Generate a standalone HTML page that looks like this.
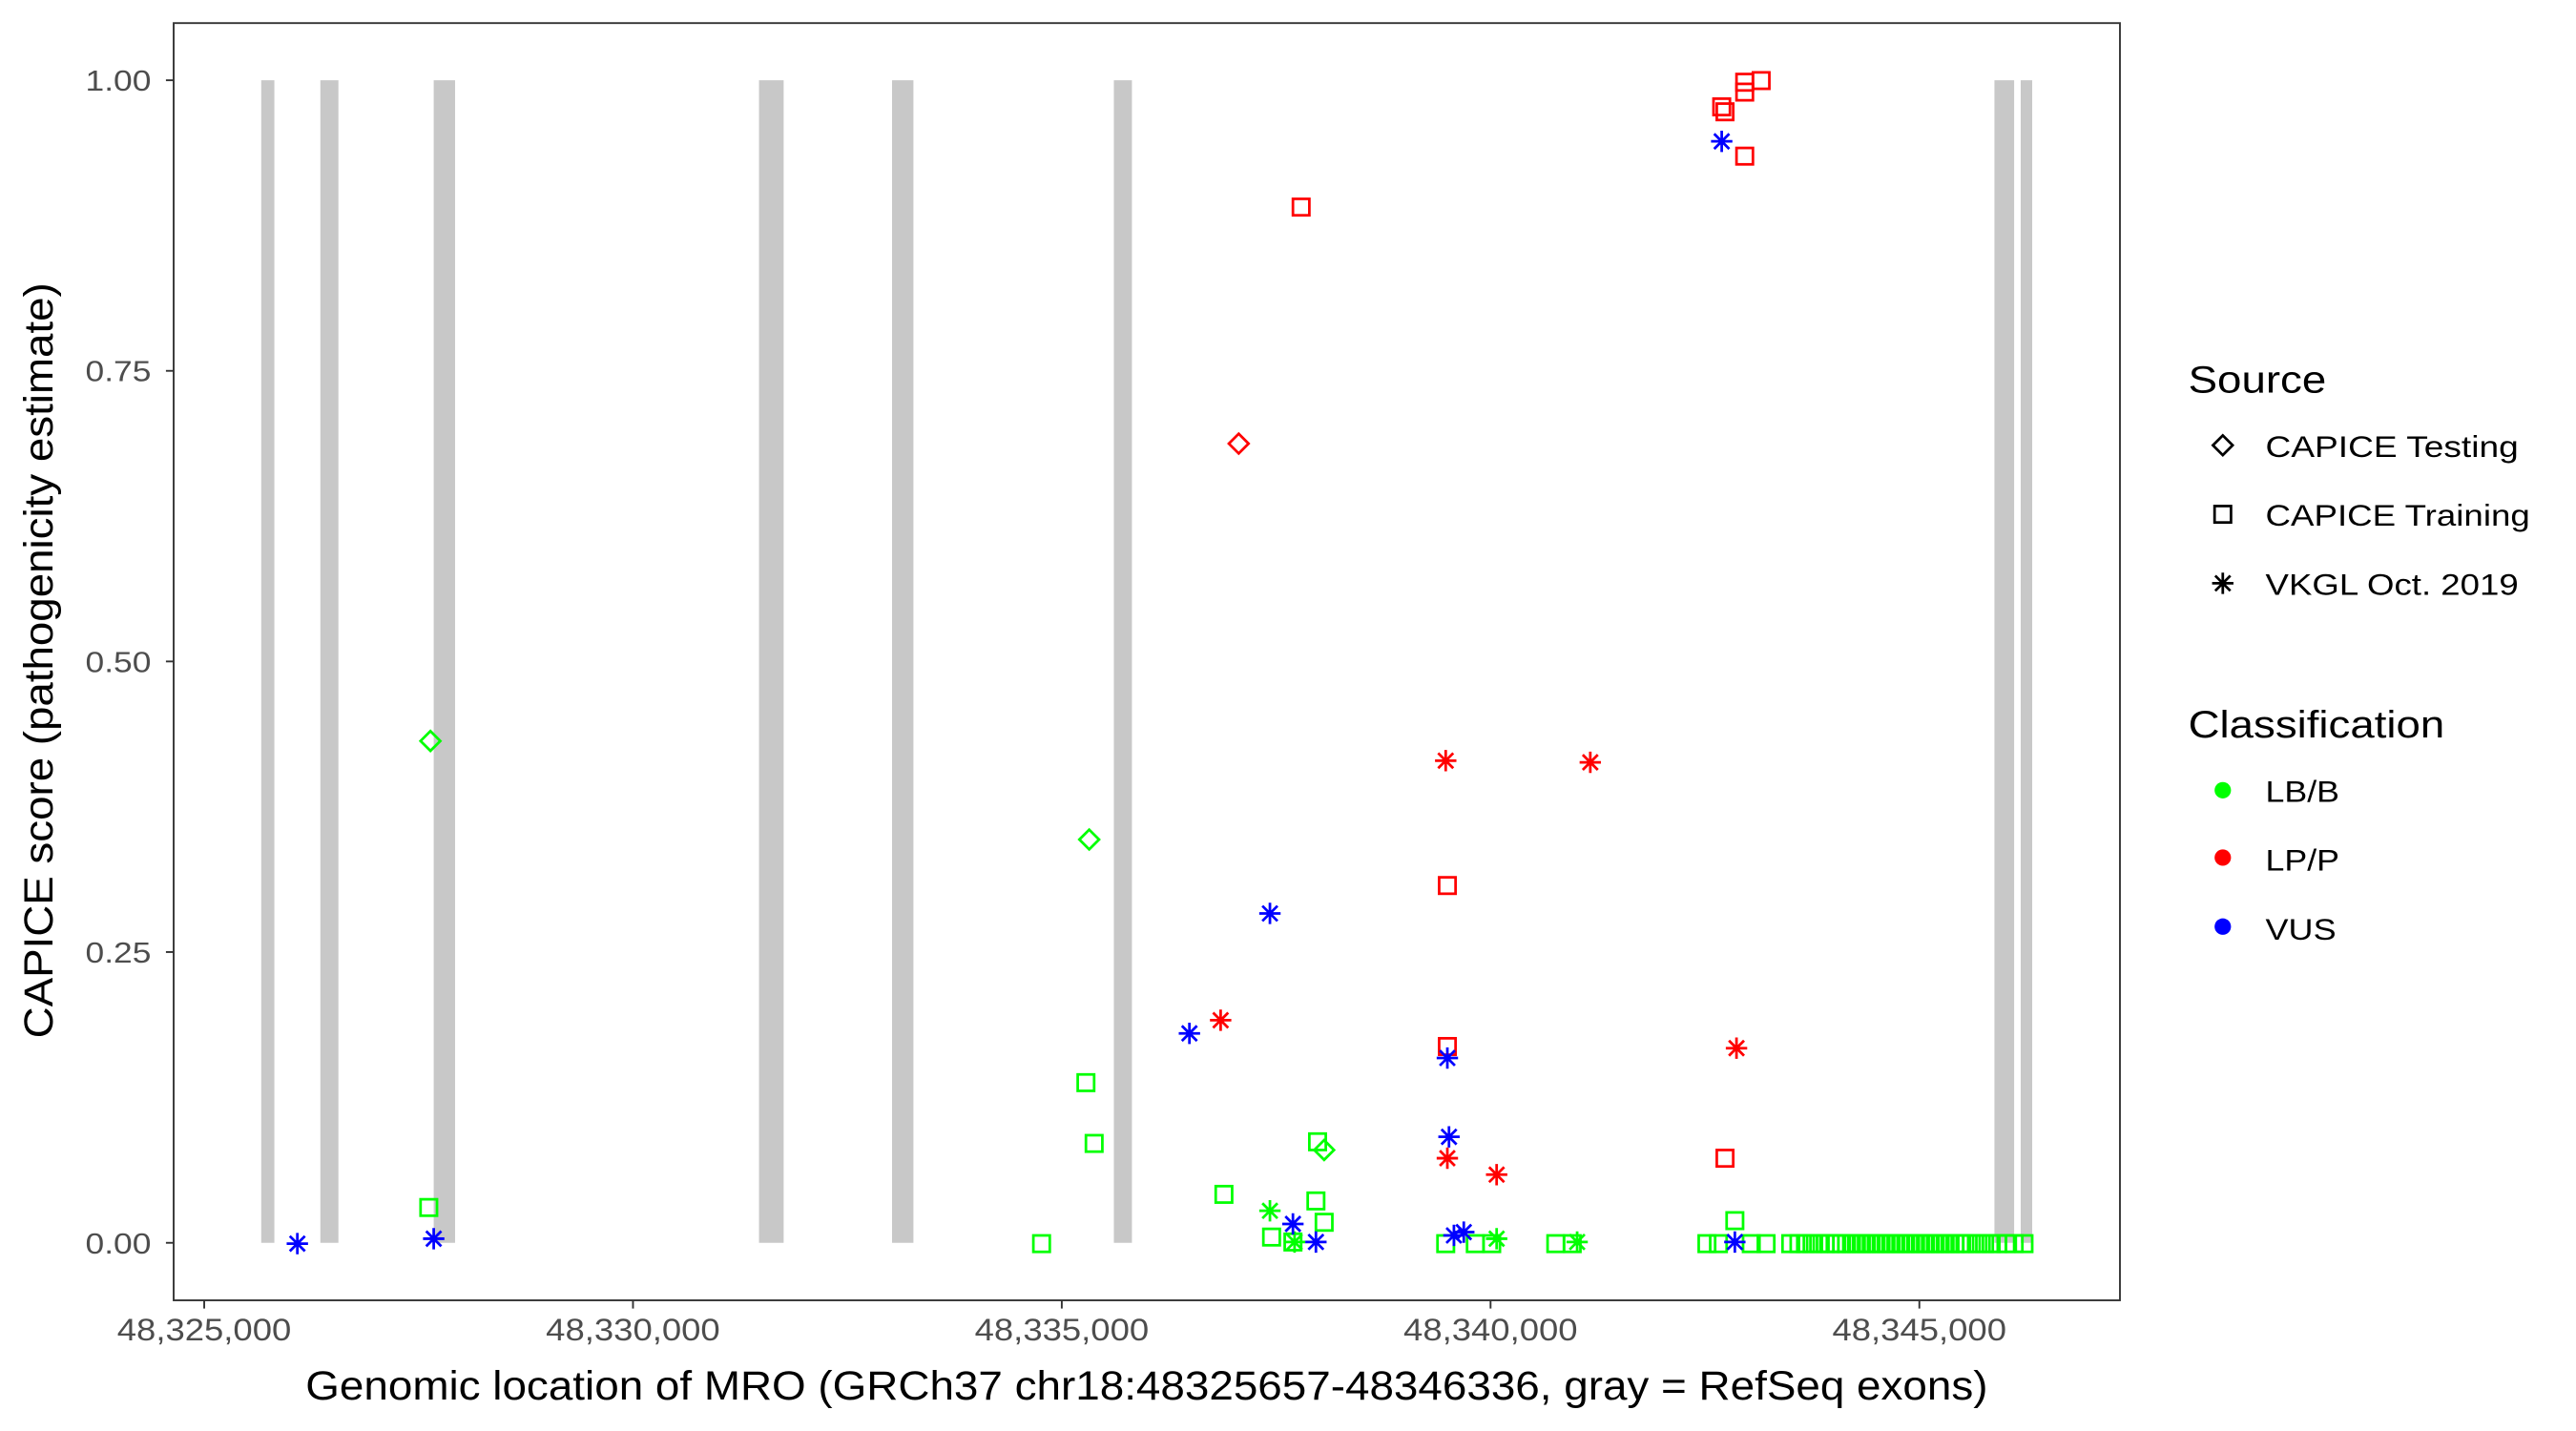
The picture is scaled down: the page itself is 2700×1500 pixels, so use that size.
<!DOCTYPE html>
<html><head><meta charset="utf-8"><style>
html,body{margin:0;padding:0;background:#fff;}
svg{display:block;}
text{font-family:"Liberation Sans",Arial,sans-serif;}
</style></head><body>
<svg id="s" width="2700" height="1500" viewBox="0 0 1568 871" xmlns="http://www.w3.org/2000/svg">
<rect x="0" y="0" width="1568" height="871" fill="#fff"/>
<g id="ex" fill="#c8c8c8"></g>
<g id="pts" fill="none" stroke-width="1.6"></g>
<rect x="105.7" y="14" width="1184.7" height="777.5" fill="none" stroke="#333" stroke-width="1.1"/>
<g stroke="#333" stroke-width="1.1">
<line x1="101" y1="48.8" x2="105.7" y2="48.8"/><line x1="101" y1="225.7" x2="105.7" y2="225.7"/><line x1="101" y1="402.6" x2="105.7" y2="402.6"/><line x1="101" y1="579.5" x2="105.7" y2="579.5"/><line x1="101" y1="756.5" x2="105.7" y2="756.5"/>
<line x1="124.3" y1="791.5" x2="124.3" y2="796.5"/><line x1="385.3" y1="791.5" x2="385.3" y2="796.5"/><line x1="646.3" y1="791.5" x2="646.3" y2="796.5"/><line x1="907.3" y1="791.5" x2="907.3" y2="796.5"/><line x1="1168.3" y1="791.5" x2="1168.3" y2="796.5"/>
</g>
<g fill="#4d4d4d" font-size="17.5">
<text x="52" y="55" textLength="40" lengthAdjust="spacingAndGlyphs">1.00</text><text x="52" y="232" textLength="40" lengthAdjust="spacingAndGlyphs">0.75</text><text x="52" y="409" textLength="40" lengthAdjust="spacingAndGlyphs">0.50</text><text x="52" y="586" textLength="40" lengthAdjust="spacingAndGlyphs">0.25</text><text x="52" y="763" textLength="40" lengthAdjust="spacingAndGlyphs">0.00</text>
</g>
<g fill="#4d4d4d" font-size="19">
<text x="71.3" y="816" textLength="106" lengthAdjust="spacingAndGlyphs">48,325,000</text><text x="332.3" y="816" textLength="106" lengthAdjust="spacingAndGlyphs">48,330,000</text><text x="593.3" y="816" textLength="106" lengthAdjust="spacingAndGlyphs">48,335,000</text><text x="854.3" y="816" textLength="106" lengthAdjust="spacingAndGlyphs">48,340,000</text><text x="1115.3" y="816" textLength="106" lengthAdjust="spacingAndGlyphs">48,345,000</text>
</g>
<text x="186" y="852" font-size="25" fill="#000" textLength="1024" lengthAdjust="spacingAndGlyphs">Genomic location of MRO (GRCh37 chr18:48325657-48346336, gray = RefSeq exons)</text>
<text transform="translate(32,632) rotate(-90)" font-size="25" fill="#000" textLength="460" lengthAdjust="spacingAndGlyphs">CAPICE score (pathogenicity estimate)</text>
<g font-size="23" fill="#000"><text x="1332" y="239" textLength="84" lengthAdjust="spacingAndGlyphs">Source</text><text x="1332" y="449" textLength="156" lengthAdjust="spacingAndGlyphs">Classification</text></g>
<g font-size="18.5" fill="#000">
<text x="1379" y="278" textLength="154" lengthAdjust="spacingAndGlyphs">CAPICE Testing</text><text x="1379" y="320" textLength="161" lengthAdjust="spacingAndGlyphs">CAPICE Training</text><text x="1379" y="362" textLength="154" lengthAdjust="spacingAndGlyphs">VKGL Oct. 2019</text>
<text x="1379" y="488" textLength="45" lengthAdjust="spacingAndGlyphs">LB/B</text><text x="1379" y="530" textLength="45" lengthAdjust="spacingAndGlyphs">LP/P</text><text x="1379" y="572" textLength="43" lengthAdjust="spacingAndGlyphs">VUS</text>
</g>
<g id="leg" fill="none" stroke="#000" stroke-width="1.6"></g>
<circle cx="1353" cy="481" r="5" fill="#00ff00"/><circle cx="1353" cy="522" r="5" fill="#ff0000"/><circle cx="1353" cy="564" r="5" fill="#0000ff"/>
</svg>
<script>
var NS="http://www.w3.org/2000/svg";
function el(p,t,a){var e=document.createElementNS(NS,t);for(var k in a)e.setAttribute(k,a[k]);p.appendChild(e);return e;}
var ex=document.getElementById('ex');
[[159,167],[195,206],[264,277],[462,477],[543,556],[678,689],[1214,1226],[1230,1237]].forEach(function(r){el(ex,'rect',{x:r[0],y:48.8,width:r[1]-r[0],height:707.7});});
var P=document.getElementById('pts');
var C={g:'#00ff00',r:'#ff0000',b:'#0000ff'};
function sq(g,x,y,c){el(g,'rect',{x:x-5,y:y-5,width:10,height:10,stroke:c});}
function di(g,x,y,c){el(g,'path',{d:'M'+(x-6)+' '+y+'L'+x+' '+(y-6)+'L'+(x+6)+' '+y+'L'+x+' '+(y+6)+'Z',stroke:c});}
function st(g,x,y,c){var r=6.5,d=4.6;el(g,'path',{d:'M'+(x-r)+' '+y+'H'+(x+r)+'M'+x+' '+(y-r)+'V'+(y+r)+'M'+(x-d)+' '+(y-d)+'L'+(x+d)+' '+(y+d)+'M'+(x-d)+' '+(y+d)+'L'+(x+d)+' '+(y-d),stroke:c});}
var gs=[[261,735],[661,659],[666,696],[745,727],[634,757],[774,753],[787,756],[802,695],[801,731],[806,744],[880,757],[898,757],[908,757],[947,757],[957,757],[1039,757],[1046,757],[1056,743],[1066,757],[1075,757]];
var xs=[1090,1095,1099,1103,1107,1111,1114,1118,1121,1124,1127,1130,1133,1136,1139,1142,1145,1148,1151,1154,1157,1160,1163,1166,1169,1172,1175,1178,1181,1184,1187,1190,1193,1196,1200,1204,1208,1212,1216,1221,1226,1232];
xs.forEach(function(x){gs.push([x,757]);});
gs.forEach(function(p){sq(P,p[0],p[1],C.g);});
[[792,126],[1048,65],[1050,68],[1062,50],[1062,56],[1072,49],[1062,95],[881,539],[881,637],[1050,705]].forEach(function(p){sq(P,p[0],p[1],C.r);});
di(P,262,451,C.g);di(P,663,511,C.g);di(P,754,270,C.r);di(P,806,700,C.g);
[[773,737],[788,756],[911,754],[960,756]].forEach(function(p){st(P,p[0],p[1],C.g);});
[[743,621],[880,463],[968,464],[881,705],[911,715],[1057,638]].forEach(function(p){st(P,p[0],p[1],C.r);});
[[181,757],[264,754],[724,629],[773,556],[787,745],[801,756],[881,644],[882,692],[885,752],[891,750],[1048,86],[1056,756]].forEach(function(p){st(P,p[0],p[1],C.b);});
var L=document.getElementById('leg');
di(L,1353,271,'#000');sq(L,1353,313,'#000');st(L,1353,355,'#000');
</script>
</body></html>
